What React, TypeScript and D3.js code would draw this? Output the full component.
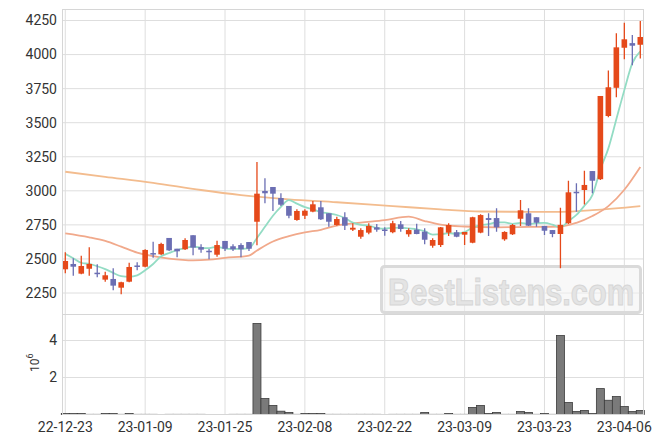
import React from "react";
import * as d3 from "d3";

const tickLabels = ["22-12-23", "23-01-09", "23-01-25", "23-02-08", "23-02-22", "23-03-09", "23-03-23", "23-04-06"];
const tickIdx = [0, 10, 20, 30, 40, 50, 60, 70];

const opens = [2424, 2463, 2392, 2428, 2399, 2348, 2353, 2289, 2333, 2452, 2443, 2543, 2534, 2654, 2575, 2571, 2674, 2587, 2560, 2531, 2632, 2593, 2602, 2624, 2773, 2999, 3028, 2947, 2889, 2786, 2817, 2847, 2879, 2835, 2749, 2806, 2715, 2663, 2693, 2732, 2716, 2696, 2754, 2681, 2715, 2700, 2597, 2602, 2693, 2696, 2678, 2619, 2693, 2800, 2800, 2644, 2681, 2795, 2835, 2806, 2742, 2712, 2683, 2762, 2993, 3006, 3145, 3085, 3549, 3756, 4050, 4084, 4072];
const highs = [2549, 2505, 2524, 2585, 2461, 2406, 2431, 2333, 2472, 2475, 2571, 2627, 2619, 2654, 2575, 2651, 2674, 2607, 2573, 2634, 2632, 2607, 2615, 2624, 3211, 3092, 3028, 2982, 2889, 2864, 2864, 2925, 2925, 2835, 2810, 2842, 2762, 2725, 2762, 2756, 2732, 2781, 2778, 2725, 2759, 2725, 2651, 2735, 2762, 2712, 2698, 2810, 2828, 2835, 2872, 2703, 2756, 2933, 2872, 2806, 2742, 2712, 2876, 3074, 3055, 3148, 3145, 3696, 3883, 4156, 4234, 4143, 4246];
const lows = [2395, 2377, 2387, 2377, 2365, 2333, 2270, 2241, 2329, 2417, 2439, 2509, 2529, 2558, 2512, 2566, 2527, 2546, 2497, 2516, 2558, 2558, 2512, 2558, 2600, 2908, 2852, 2889, 2798, 2781, 2793, 2842, 2786, 2737, 2744, 2712, 2705, 2649, 2681, 2700, 2671, 2688, 2700, 2663, 2681, 2607, 2583, 2587, 2668, 2659, 2602, 2615, 2688, 2668, 2700, 2634, 2676, 2742, 2742, 2737, 2676, 2659, 2431, 2756, 2847, 2900, 2982, 3080, 3539, 3686, 3965, 3921, 3972];
const closes = [2485, 2443, 2448, 2463, 2392, 2380, 2304, 2329, 2441, 2445, 2566, 2533, 2610, 2563, 2556, 2639, 2583, 2568, 2552, 2602, 2575, 2571, 2571, 2575, 2979, 2982, 2979, 2898, 2817, 2852, 2854, 2901, 2791, 2773, 2793, 2744, 2729, 2712, 2742, 2715, 2712, 2762, 2720, 2712, 2683, 2641, 2639, 2732, 2749, 2663, 2698, 2806, 2822, 2786, 2732, 2698, 2749, 2857, 2744, 2766, 2707, 2683, 2750, 2989, 2985, 3043, 3074, 3696, 3760, 4053, 4112, 4065, 4129];
// volume in millions of shares
const volumes = [0.05, 0.05, 0.05, 0.01, 0.01, 0.05, 0.05, 0.01, 0.05, 0.01, 0.01, 0.01, 0, 0.01, 0.01, 0.01, 0.01, 0.01, 0, 0, 0, 0.01, 0.01, 0.01, 4.92, 0.86, 0.49, 0.18, 0.11, 0.01, 0.05, 0.05, 0.05, 0.01, 0.01, 0.01, 0.01, 0.01, 0.01, 0.01, 0, 0.01, 0.01, 0.01, 0.01, 0.11, 0.01, 0.01, 0.05, 0.01, 0.01, 0.38, 0.49, 0.05, 0.11, 0.01, 0.01, 0.16, 0.11, 0.01, 0.05, 0.01, 4.27, 0.65, 0.16, 0.22, 0.05, 1.40, 0.77, 0.97, 0.43, 0.16, 0.22];

const ma5Head = [2537, 2505, 2472, 2463];
const ma20Idx = [0, 3, 5, 7, 9, 11, 13, 16, 18, 20, 23, 24, 26, 28, 30, 32, 34, 37, 40, 43, 45, 47, 50, 54, 58, 62, 64, 66, 68, 70, 72];
const ma20Val = [2688, 2659, 2632, 2590, 2546, 2520, 2503, 2490, 2495, 2508, 2525, 2562, 2628, 2667, 2695, 2714, 2745, 2766, 2785, 2810, 2778, 2752, 2738, 2732, 2735, 2738, 2765, 2815, 2888, 3008, 3175];
const ma60Idx = [0, 5, 11, 17, 22, 28, 34, 41, 47, 52, 58, 62, 66, 72];
const ma60Val = [3140, 3103, 3059, 3006, 2969, 2937, 2916, 2888, 2864, 2848, 2846, 2846, 2858, 2888];

const priceTicks = [2250, 2500, 2750, 3000, 3250, 3500, 3750, 4000, 4250];
const volTicks = [2, 4];

const UP = "#e5491a";
const DOWN = "#6b6eb3";

export default function App() {
  const L = 62.5, R = 643.5, T = 9.5, MB = 314.5, VB = 414.5;
  const x = d3.scaleLinear().domain([-0.35, 72.4]).range([L, R]);
  const y = d3.scaleLinear().domain([2250, 4250]).range([293, 20.5]);
  const yv = d3.scaleLinear().domain([0, 4]).range([VB, 340.5]);

  const ma5 = closes.map((c, i) => (i < 4 ? ma5Head[i] : d3.mean(closes.slice(i - 4, i + 1)) as number));
  const lineIdx = d3.line<number>().x((_, i) => x(i)).y((v) => y(v)).curve(d3.curveMonotoneX);
  const lineXY = d3.line<[number, number]>().x((d) => x(d[0])).y((d) => y(d[1])).curve(d3.curveMonotoneX);
  const ma20Pts: [number, number][] = ma20Idx.map((d, i) => [d, ma20Val[i]]);
  const ma60Pts: [number, number][] = ma60Idx.map((d, i) => [d, ma60Val[i]]);

  const grid = "#dedede";
  const bw = 5.6;

  return (
    <svg width={663} height={444} style={{ position: "absolute", left: 0, top: 0, background: "#fff" }} fontFamily="Roboto, sans-serif">
      <defs>
        <clipPath id="mainClip">
          <rect x={L} y={T} width={R - L} height={MB - T} />
        </clipPath>
      </defs>
      <rect x={0} y={0} width={663} height={444} fill="#fff" />
      {/* horizontal grid main */}
      {priceTicks.map((t) => (
        <line key={"pg" + t} x1={L} x2={R} y1={y(t)} y2={y(t)} stroke={grid} strokeWidth={1} />
      ))}
      {/* vertical grid */}
      {tickIdx.map((t) => (
        <line key={"vg" + t} x1={x(t)} x2={x(t)} y1={T} y2={VB} stroke={grid} strokeWidth={1} />
      ))}
      {volTicks.map((t) => (
        <line key={"vgh" + t} x1={L} x2={R} y1={yv(t)} y2={yv(t)} stroke={grid} strokeWidth={1} />
      ))}
      {/* watermark */}
      <g>
        <rect x={381.5} y={266.5} width={259} height={46} rx={3} fill="#f2f2f2" fillOpacity={0.55} stroke="#dadada" strokeWidth={3} />
        <text x={511} y={305} textAnchor="middle" fontFamily="Liberation Sans, Arial, sans-serif" fontWeight="bold" fontSize={37} textLength={246} lengthAdjust="spacingAndGlyphs" fill="#e4e4e4" stroke="#d6d6d6" strokeWidth={1}>
          BestListens.com
        </text>
      </g>
      {/* moving averages */}
      <g clipPath="url(#mainClip)" fill="none">
        <path d={lineXY(ma60Pts) || ""} stroke="#f3bc8e" strokeWidth={1.8} />
        <path d={lineXY(ma20Pts) || ""} stroke="#f1a98b" strokeWidth={1.8} />
        <path d={lineIdx(ma5) || ""} stroke="#93dcc4" strokeWidth={1.8} />
      </g>
      {/* candles */}
      <g clipPath="url(#mainClip)">
        {closes.map((c, i) => {
          const o = opens[i];
          const up = c >= o;
          const col = up ? UP : DOWN;
          const top = y(Math.max(o, c));
          const bot = y(Math.min(o, c));
          const h = Math.max(bot - top, 1.5);
          return (
            <g key={"c" + i}>
              <line x1={x(i)} x2={x(i)} y1={y(highs[i])} y2={y(lows[i])} stroke={col} strokeWidth={1.3} />
              <rect x={x(i) - bw / 2} y={top} width={bw} height={h} fill={col} />
            </g>
          );
        })}
      </g>
      {/* volume bars */}
      <g>
        {volumes.map((v, i) =>
          v > 0 ? (
            <rect key={"v" + i} x={x(i) - 4} y={yv(v)} width={8} height={VB - yv(v)} fill="#7a7a7a" stroke="#3c3c3c" strokeWidth={0.8} />
          ) : null
        )}
      </g>
      {/* frame */}
      <rect x={L} y={T} width={R - L} height={VB - T} fill="none" stroke="#d6d6d6" strokeWidth={1} />
      <line x1={L} x2={R} y1={MB} y2={MB} stroke="#d6d6d6" strokeWidth={1} />
      {/* axis labels */}
      {priceTicks.map((t) => (
        <text key={"pl" + t} x={57} y={y(t)} dy="0.35em" textAnchor="end" fontSize={14} fill="#333">
          {t}
        </text>
      ))}
      {volTicks.map((t) => (
        <text key={"vl" + t} x={57} y={yv(t)} dy="0.35em" textAnchor="end" fontSize={14} fill="#333">
          {t}
        </text>
      ))}
      <text transform="translate(38.5,372) rotate(-90)" fontSize={12} fill="#333">
        10<tspan dy={-6} fontSize={9}>6</tspan>
      </text>
      {tickIdx.map((t, k) => (
        <text key={"xl" + t} x={x(t)} y={432} textAnchor="middle" fontSize={14} fill="#333">
          {tickLabels[k]}
        </text>
      ))}
    </svg>
  );
}
